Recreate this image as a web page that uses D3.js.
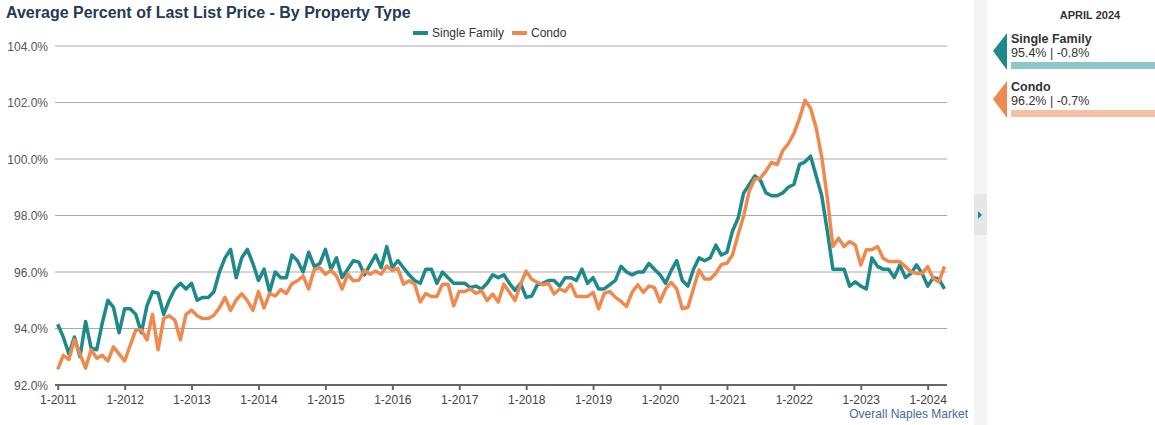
<!DOCTYPE html>
<html><head><meta charset="utf-8">
<script src="https://cdn.jsdelivr.net/npm/d3@7"></script>
<style>
body{margin:0;background:#fff;font-family:Arial,"Liberation Sans",sans-serif;}
svg{display:block;}
</style></head>
<body><svg id="c" width="1155" height="425"></svg>
<script>
const startYear = 2011;
const tickLabels = ["1-2011","1-2012","1-2013","1-2014","1-2015","1-2016","1-2017","1-2018","1-2019","1-2020","1-2021","1-2022","1-2023","1-2024"];
const yTicks = [92,94,96,98,100,102,104];
const seriesNames = ["Single Family","Condo"];
const seriesColors = ["#1e898b","#ee8a50"];
const barColors = ["#8ec7c7","#f6c0a4"];
const singleFamily = [
94.15,93.7,93.1,93.7,93.0,94.25,93.3,93.25,94.2,95.0,94.75,93.85,
94.7,94.7,94.5,93.85,94.8,95.3,95.25,94.5,95.0,95.4,95.6,95.4,
95.6,95.0,95.1,95.1,95.3,96.0,96.5,96.8,95.8,96.5,96.8,96.3,
95.7,96.1,95.3,96.0,95.8,95.8,96.6,96.4,96.0,96.7,96.2,96.3,
96.8,96.1,96.5,95.8,96.1,96.4,96.35,95.9,96.25,96.6,96.15,96.9,
96.15,96.4,96.15,95.9,95.7,95.6,96.1,96.1,95.6,96.0,95.8,95.6,
95.6,95.6,95.45,95.5,95.4,95.6,95.9,95.8,95.9,95.6,95.35,95.6,
95.1,95.15,95.55,95.6,95.7,95.7,95.5,95.8,95.8,95.7,96.1,95.6,
95.8,95.4,95.4,95.55,95.7,96.2,96.0,95.9,96.0,96.0,96.3,96.1,
95.9,95.6,96.05,96.4,95.7,95.5,96.1,96.5,96.4,96.5,96.95,96.6,
96.7,97.45,97.9,98.8,99.1,99.4,99.25,98.8,98.7,98.7,98.8,99.0,
99.1,99.8,99.9,100.1,99.4,98.7,97.45,96.1,96.1,96.1,95.5,95.65,
95.5,95.4,96.5,96.2,96.1,96.1,95.8,96.25,95.8,95.95,96.25,95.95,
95.5,95.8,95.75,95.4];
const condo = [
92.55,93.05,92.9,93.6,93.1,92.6,93.25,92.95,93.05,92.85,93.35,93.1,
92.85,93.4,93.95,93.95,93.6,94.5,93.25,94.35,94.45,94.3,93.6,94.5,
94.65,94.45,94.35,94.35,94.47,94.73,95.1,94.64,95.01,95.23,94.99,94.64,
95.31,94.73,95.24,95.15,95.38,95.24,95.59,95.69,95.86,95.4,96.09,96.15,
95.92,96.06,95.86,95.4,95.92,95.69,95.71,96.06,95.92,96.03,95.92,96.21,
96.06,96.13,95.57,95.69,95.57,94.94,95.24,95.13,95.13,95.57,95.57,94.8,
95.31,95.31,95.4,95.24,95.34,94.99,95.22,94.94,95.57,95.28,94.99,95.57,
96.03,95.74,95.63,95.55,95.6,95.22,95.4,95.31,95.57,95.13,95.13,95.13,
95.28,94.7,95.24,95.31,95.1,94.96,94.78,95.28,95.55,95.28,95.5,95.45,
94.94,95.4,95.63,95.4,94.7,94.75,95.42,96.07,95.75,95.75,95.95,96.27,
96.31,96.61,97.32,97.98,98.87,99.29,99.32,99.58,99.88,99.8,100.3,100.54,
100.9,101.43,102.08,101.8,101.1,100.06,98.63,96.9,97.2,96.9,97.08,96.96,
96.25,96.79,96.79,96.9,96.49,96.37,96.37,96.37,96.19,96.01,95.95,95.95,
96.19,95.77,95.65,96.2];
const panelTitle = "APRIL 2024";
const panelValues = ["95.4% | -0.8%","96.2% | -0.7%"];
const footer = "Overall Naples Market";
const title = "Average Percent of Last List Price - By Property Type";

const svg = d3.select("#c");
const n = singleFamily.length;
const x = d3.scaleLinear().domain([0, n-1]).range([57.7, 57.7 + (n-1)*5.577]);
const y = d3.scaleLinear().domain([92,104]).range([385,46]);
const gx0 = 55, gx1 = 947;

svg.append("text").attr("x",6).attr("y",18).text(title)
  .attr("font-size","16px").attr("font-weight","bold").attr("fill","#243a56");

// gridlines
const yAxis = d3.axisLeft(y).tickValues(yTicks).tickFormat(d=>d.toFixed(1)+"%").tickSize(0);
const gy = svg.append("g").attr("transform","translate(48,0)").call(yAxis);
gy.select(".domain").remove();
gy.selectAll("text").attr("font-size","12px").attr("fill","#555").attr("font-family","Arial,'Liberation Sans',sans-serif").attr("x",0).attr("dy","0.35em");
svg.append("g").selectAll("line").data(yTicks.filter(d=>d>92)).join("line")
  .attr("x1",gx0).attr("x2",gx1).attr("y1",d=>y(d)).attr("y2",d=>y(d))
  .attr("stroke","#aaa").attr("stroke-width",1);

// x axis
const xAxis = d3.axisBottom(x).tickValues(d3.range(0,n,12)).tickFormat((d,i)=>tickLabels[i]).tickSize(5).tickSizeOuter(0);
const gxA = svg.append("g").attr("transform","translate(0,385)").call(xAxis);
gxA.select(".domain").attr("d",`M${gx0},0H${gx1}`).attr("stroke","#666").attr("stroke-width",2);
gxA.selectAll(".tick line").attr("stroke","#666").attr("stroke-width",2);
gxA.selectAll("text").attr("font-size","12px").attr("fill","#444").attr("font-family","Arial,'Liberation Sans',sans-serif").attr("dy","0.9em");

// lines
const line = d3.line().x((d,i)=>x(i)).y(d=>y(d)).curve(d3.curveLinear);
[singleFamily, condo].forEach((s,k)=>{
  svg.append("path").datum(s).attr("d",line).attr("fill","none")
    .attr("stroke",seriesColors[k]).attr("stroke-width",3.5).attr("stroke-linejoin","round");
});

// legend
const leg = [{x:413},{x:512}];
seriesNames.forEach((nm,k)=>{
  svg.append("line").attr("x1",leg[k].x).attr("x2",leg[k].x+15).attr("y1",33).attr("y2",33)
    .attr("stroke",seriesColors[k]).attr("stroke-width",4);
  svg.append("text").attr("x",leg[k].x+19).attr("y",37).text(nm)
    .attr("font-size","12px").attr("fill","#333");
});

svg.append("text").attr("x",968).attr("y",418).attr("text-anchor","end").text(footer)
  .attr("font-size","12px").attr("fill","#3f6b99");

// side strip
svg.append("rect").attr("x",974).attr("y",0).attr("width",13).attr("height",425).attr("fill","#f4f4f4");
svg.append("rect").attr("x",974).attr("y",194).attr("width",13).attr("height",41).attr("fill","#e6e6e6");
svg.append("path").attr("d","M978,211L982,215L978,219Z").attr("fill","#1e898b");

// panel
svg.append("text").attr("x",1090).attr("y",19).attr("text-anchor","middle").text(panelTitle)
  .attr("font-size","11px").attr("font-weight","bold").attr("fill","#333");
seriesNames.forEach((nm,k)=>{
  const top = 33 + k*48;
  svg.append("path").attr("d",`M993,${top+18}L1007,${top}L1007,${top+37}Z`).attr("fill",seriesColors[k]);
  svg.append("text").attr("x",1011).attr("y",top+10).text(nm)
    .attr("font-size","12.5px").attr("font-weight","bold").attr("fill","#333");
  svg.append("text").attr("x",1011).attr("y",top+24).text(panelValues[k])
    .attr("font-size","12.5px").attr("fill","#333");
  svg.append("rect").attr("x",1011).attr("y",top+29).attr("width",144).attr("height",7).attr("fill",barColors[k]);
});
</script></body></html>
